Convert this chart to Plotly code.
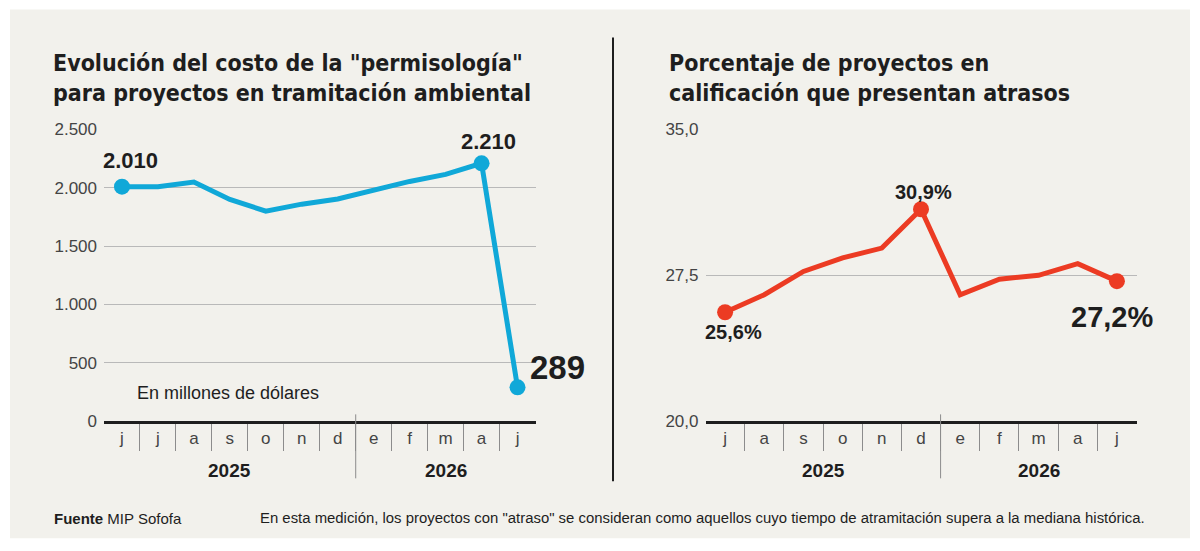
import plotly.graph_objects as go

# ---- data ----
months_left = ["j", "j", "a", "s", "o", "n", "d", "e", "f", "m", "a", "j"]
years_left = ["2025", "2025", "2025", "2025", "2025", "2025", "2025",
              "2026", "2026", "2026", "2026", "2026"]
cost_musd = [2010, 2010, 2050, 1900, 1800, 1860, 1905, 1980, 2055, 2115, 2210, 289]
cost_ticks = [0, 500, 1000, 1500, 2000, 2500]
cost_marked = [0, 10, 11]

months_right = ["j", "a", "s", "o", "n", "d", "e", "f", "m", "a", "j"]
years_right = ["2025", "2025", "2025", "2025", "2025", "2025",
               "2026", "2026", "2026", "2026", "2026"]
delay_pct = [25.6, 26.5, 27.7, 28.4, 28.9, 30.9, 26.5, 27.3, 27.5, 28.1, 27.2]
delay_ticks = [20.0, 27.5, 35.0]
delay_marked = [0, 5, 10]

title_left = ['Evolución del costo de la "permisología"',
              "para proyectos en tramitación ambiental"]
title_right = ["Porcentaje de proyectos en",
               "calificación que presentan atrasos"]
unit_note = "En millones de dólares"
source = "<b>Fuente</b> MIP Sofofa"
footnote = ('En esta medición, los proyectos con "atraso" se consideran como aquellos '
            'cuyo tiempo de atramitación supera a la mediana histórica.')

# ---- style ----
W, H = 1200, 551
BG = "#f2f1ec"
BLUE = "#10a8d8"
RED = "#ec3b23"
INK = "#1e1e1e"
GREY = "#444444"
SANS = "Liberation Sans, Arial, sans-serif"
NARROW = "DejaVu Sans Condensed, Liberation Sans, sans-serif"

# the photographed plot came out offset/squeezed vertically, so map
# target pixel rows through what was measured on the previous render
Y_OFF, Y_SPAN = 8.4, 532.3


def px(x):
    return x / W


def py(y):
    return 1 - (y - Y_OFF) / Y_SPAN


def fmt_cost(v):
    return f"{v:,}".replace(",", ".")


def fmt_pct(v):
    return f"{v:.1f}".replace(".", ",") + "%"


fig = go.Figure()

xl = list(range(len(cost_musd)))
fig.add_trace(go.Scatter(x=xl, y=cost_musd, mode="lines",
                         line=dict(color=BLUE, width=5), xaxis="x", yaxis="y",
                         hoverinfo="skip"))
fig.add_trace(go.Scatter(x=cost_marked, y=[cost_musd[i] for i in cost_marked],
                         mode="markers", marker=dict(color=BLUE, size=16),
                         xaxis="x", yaxis="y", cliponaxis=False, hoverinfo="skip"))

xr = list(range(len(delay_pct)))
fig.add_trace(go.Scatter(x=xr, y=delay_pct, mode="lines",
                         line=dict(color=RED, width=5), xaxis="x2", yaxis="y2",
                         hoverinfo="skip"))
fig.add_trace(go.Scatter(x=delay_marked, y=[delay_pct[i] for i in delay_marked],
                         mode="markers", marker=dict(color=RED, size=16),
                         xaxis="x2", yaxis="y2", cliponaxis=False, hoverinfo="skip"))


def xaxis_cfg(months, dom):
    n = len(months)
    return dict(domain=dom, range=[-0.5, n - 0.5], tickvals=list(range(n)),
                ticktext=months, showgrid=False, zeroline=False,
                showline=True, linecolor=INK, linewidth=3, ticks="",
                ticklabelstandoff=0,
                tickfont=dict(family=SANS, size=17, color=GREY),
                minor=dict(tickvals=[i + 0.5 for i in range(n - 1)],
                           ticks="outside", ticklen=27, tickwidth=1,
                           tickcolor="#8c8c8c"),
                fixedrange=True)


def yaxis_cfg(rng, ticks, fmt, anchor):
    return dict(domain=[py(420.7), py(129)], range=rng, tickvals=ticks, tickformat=fmt,
                showgrid=True, gridcolor="#b9b9b9", gridwidth=1, zeroline=False,
                ticks="", ticklabelstandoff=6, anchor=anchor,
                tickfont=dict(family=SANS, size=17, color=GREY), fixedrange=True)


fig.update_layout(
    width=W, height=H,
    margin=dict(l=0, r=0, t=0, b=0),
    paper_bgcolor="white", plot_bgcolor="rgba(0,0,0,0)",
    separators=",.",
    showlegend=False,
    xaxis=dict(xaxis_cfg(months_left, [px(104), px(535.5)]), anchor="y"),
    yaxis=yaxis_cfg([0, 2500], cost_ticks, ",", "x"),
    xaxis2=dict(xaxis_cfg(months_right, [px(705.5), px(1136.5)]), anchor="y2"),
    yaxis2=yaxis_cfg([20, 35], delay_ticks, ".1f", "x2"),
)

shapes = [
    dict(type="rect", xref="paper", yref="paper", x0=px(10), x1=px(1190),
         y0=py(538), y1=py(9), fillcolor=BG, line=dict(width=0), layer="below"),
    dict(type="line", xref="paper", yref="paper", x0=px(613), x1=px(613),
         y0=py(481), y1=py(37), line=dict(color=INK, width=2)),
]

annotations = []


def note(x, y, text, size, family=SANS, xanchor="center", **kw):
    annotations.append(dict(x=x, y=y, text=text, showarrow=False,
                            xanchor=xanchor, yanchor="middle",
                            font=dict(family=family, size=size, color=INK), **kw))


def year_marks(years, xref):
    groups = []
    for i, yr in enumerate(years):
        if groups and groups[-1][0] == yr:
            groups[-1][2] = i
        else:
            groups.append([yr, i, i])
    for k, (yr, a, b) in enumerate(groups):
        note((a + b) / 2, py(470), f"<b>{yr}</b>", 19, xref=xref, yref="paper")
        if k > 0:
            shapes.append(dict(type="line", xref=xref, yref="paper",
                               x0=a - 0.5, x1=a - 0.5, y0=py(478), y1=py(414),
                               line=dict(color="#8c8c8c", width=1)))


year_marks(years_left, "x")
year_marks(years_right, "x2")

for j, line in enumerate(title_left):
    note(px(51), py(62 + 30 * j), f"<b>{line}</b>", 23, NARROW, "left",
         xref="paper", yref="paper")
for j, line in enumerate(title_right):
    note(px(667), py(62 + 30 * j), f"<b>{line}</b>", 23, NARROW, "left",
         xref="paper", yref="paper")

# value labels
cost_label_style = {0: (22, 9, 26), 10: (22, 7, 22), 11: (33, 40, 20)}
for i in cost_marked:
    size, dx, dy = cost_label_style[i]
    note(i, cost_musd[i], f"<b>{fmt_cost(cost_musd[i])}</b>", size,
         xref="x", yref="y", xshift=dx, yshift=dy)

delay_label_style = {0: (20, 8, -20), 5: (20, 2, 17), 10: (29, -5, -36)}
for i in delay_marked:
    size, dx, dy = delay_label_style[i]
    note(i, delay_pct[i], f"<b>{fmt_pct(delay_pct[i])}</b>", size,
         xref="x2", yref="y2", xshift=dx, yshift=dy)

note(px(228), py(393), unit_note, 18, xref="paper", yref="paper")
note(px(52), py(518), source, 15, xanchor="left", xref="paper", yref="paper")
note(px(1147), py(518), footnote, 14.9, xanchor="right", xref="paper", yref="paper")

fig.update_layout(shapes=shapes, annotations=annotations)

pin_page = (
    "var gd = document.getElementById('{plot_id}');"
    "gd.style.position = 'fixed'; gd.style.top = '0px'; gd.style.left = '0px';"
    "document.body.style.margin = '0px';"
    "document.body.style.overflow = 'hidden';"
    "document.documentElement.style.overflow = 'hidden';"
)
fig.write_html("out.html", config={"displayModeBar": False}, post_script=pin_page)
